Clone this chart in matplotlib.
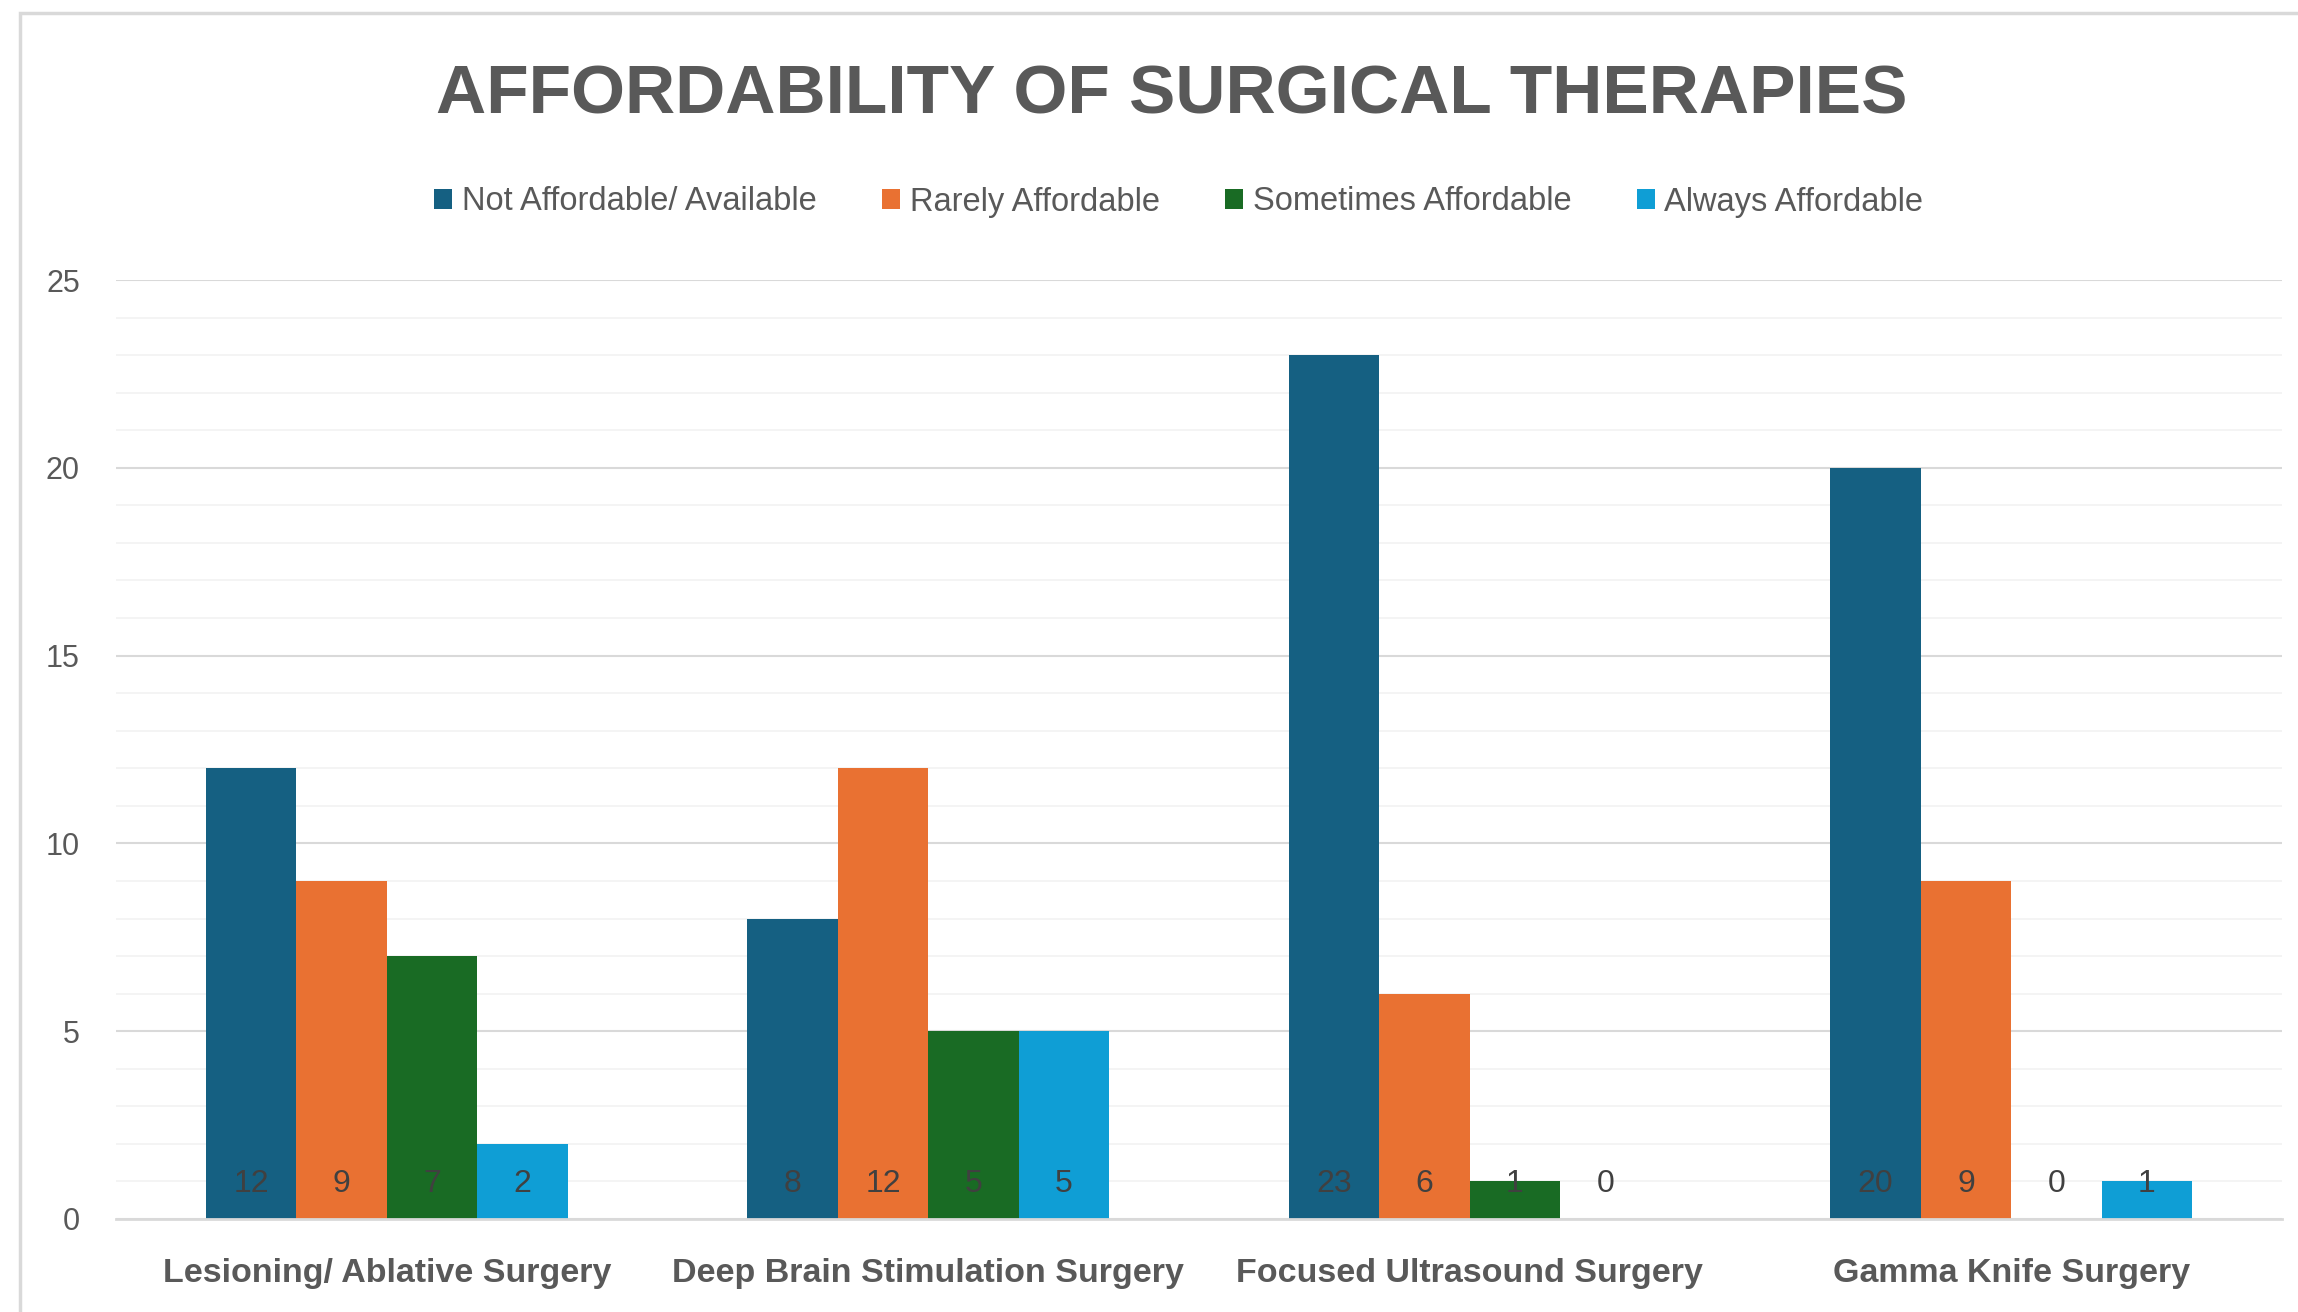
import matplotlib.pyplot as plt
from matplotlib.patches import Rectangle
from matplotlib.ticker import MultipleLocator
import numpy as np

plt.rcParams['font.family'] = ['Liberation Sans', 'DejaVu Sans']

# data
categories = ['Lesioning/ Ablative Surgery', 'Deep Brain Stimulation Surgery',
              'Focused Ultrasound Surgery', 'Gamma Knife Surgery']
series_names = ['Not Affordable/ Available', 'Rarely Affordable',
                'Sometimes Affordable', 'Always Affordable']
not_affordable = [12, 8, 23, 20]
rarely = [9, 12, 6, 9]
sometimes = [7, 5, 1, 0]
always = [2, 5, 0, 1]
colors = ['#156082', '#E97132', '#196B24', '#0F9ED5']

fig = plt.figure(figsize=(22.98, 13.12), dpi=100)
# chart area border
fig.patches.append(Rectangle((20/2298, -0.1), 1.2, 1 - 13/1312 + 0.1,
                             transform=fig.transFigure, fill=False,
                             edgecolor='#D9D9D9', linewidth=2.5))

ax = fig.add_axes([116/2298, 93/1312, 2166/2298, 939/1312])

x = np.arange(len(categories))
w = 0.167
allvals = [not_affordable, rarely, sometimes, always]
for i, vals in enumerate(allvals):
    pos = x + (i - 1.5) * w
    ax.bar(pos, vals, w, color=colors[i], label=series_names[i], zorder=3)
    for p, v in zip(pos, vals):
        ax.text(p, 0.93, str(v), ha='center', va='center', fontsize=23,
                color='#404040', zorder=4)

ax.set_xlim(-0.5, 3.5)
ax.set_ylim(0, 25)
ax.yaxis.set_major_locator(MultipleLocator(5))
ax.yaxis.set_minor_locator(MultipleLocator(1))
ax.grid(axis='y', which='major', color='#D9D9D9', linewidth=1.5, zorder=0)
ax.grid(axis='y', which='minor', color='#F2F2F2', linewidth=1.2, zorder=0)
for s in ['top', 'right', 'left']:
    ax.spines[s].set_visible(False)
ax.spines['bottom'].set_color('#D9D9D9')
ax.spines['bottom'].set_linewidth(2)
ax.spines['bottom'].set_zorder(5)

ax.set_xticks(x)
ax.set_xticklabels(categories, fontsize=24.5, fontweight='bold', color='#595959')
ax.tick_params(axis='x', length=0, pad=28)
ax.tick_params(axis='y', which='both', length=0, pad=26, labelsize=22,
               labelcolor='#595959')

fig.text(0.510, 1 - 95/1312, 'AFFORDABILITY OF SURGICAL THERAPIES', ha='center',
         va='center', fontsize=50, fontweight='bold', color='#595959')

leg = fig.legend(loc='center', bbox_to_anchor=(0.513, 1 - 202/1312), ncol=4,
                 frameon=False, fontsize=23.5, labelcolor='#595959',
                 handlelength=0.55, handleheight=0.55, handletextpad=0.3,
                 columnspacing=2.0)

fig.savefig('out.png', dpi=100)
